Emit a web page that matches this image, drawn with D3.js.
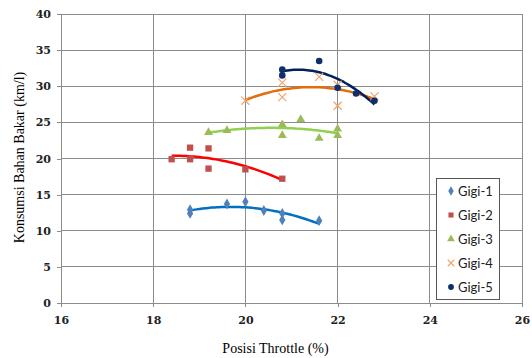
<!DOCTYPE html>
<html>
<head>
<meta charset="utf-8">
<script src="https://cdn.jsdelivr.net/npm/d3@7"></script>
<style>
  html, body { margin: 0; padding: 0; background: #fff; }
  svg { display: block; }
</style>
</head>
<body>
<div id="chart"></div>
<script>
const xTicks = [16, 18, 20, 22, 24, 26];
const yTicks = [0, 5, 10, 15, 20, 25, 30, 35, 40];

const gigi1X = [18.8, 18.8, 19.6, 20.0, 20.4, 20.8, 20.8, 21.6];
const gigi1Y = [12.9, 12.4, 13.7, 14.0, 12.8, 12.4, 11.5, 11.4];

const gigi2X = [18.4, 18.8, 18.8, 19.2, 19.2, 20.0, 20.8];
const gigi2Y = [19.9, 21.5, 19.9, 21.4, 18.6, 18.5, 17.2];

const gigi3X = [19.2, 19.6, 20.8, 20.8, 21.2, 21.6, 22.0, 22.0];
const gigi3Y = [23.6, 23.9, 24.7, 23.2, 25.4, 22.8, 24.1, 23.2];

const gigi4X = [20.0, 20.8, 20.8, 21.6, 22.0, 22.0, 22.8];
const gigi4Y = [28.0, 30.5, 28.5, 31.3, 30.2, 27.3, 28.6];

const gigi5X = [20.8, 20.8, 21.6, 22.0, 22.4, 22.8];
const gigi5Y = [32.3, 31.5, 33.5, 29.8, 29.0, 28.0];

const seriesNames = ["Gigi-1", "Gigi-2", "Gigi-3", "Gigi-4", "Gigi-5"];
const seriesXs = [gigi1X, gigi2X, gigi3X, gigi4X, gigi5X];
const seriesYs = [gigi1Y, gigi2Y, gigi3Y, gigi4Y, gigi5Y];
const markerColors = ["#4f81bd", "#c0504d", "#9bbb59", "#f0a46a", "#0d2f6b"];
const trendColors = ["#0070c0", "#ff0000", "#92d050", "#e46c0a", "#002060"];
const symbols = [d3.symbolDiamond, d3.symbolSquare, d3.symbolTriangle, d3.symbolCross, d3.symbolCircle];

// quadratic least-squares fit, like an Excel order-2 trendline
function quadFit(xs, ys) {
  const n = xs.length;
  let s = [0, 0, 0, 0, 0], t = [0, 0, 0];
  for (let i = 0; i < n; i++) {
    const x = xs[i], y = ys[i];
    for (let k = 0; k < 5; k++) s[k] += Math.pow(x, k);
    for (let k = 0; k < 3; k++) t[k] += y * Math.pow(x, k);
  }
  const m = [[s[0], s[1], s[2], t[0]], [s[1], s[2], s[3], t[1]], [s[2], s[3], s[4], t[2]]];
  for (let i = 0; i < 3; i++) {
    for (let j = i + 1; j < 3; j++) {
      const f = m[j][i] / m[i][i];
      for (let k = i; k < 4; k++) m[j][k] -= f * m[i][k];
    }
  }
  const c = [0, 0, 0];
  for (let i = 2; i >= 0; i--) {
    let v = m[i][3];
    for (let k = i + 1; k < 3; k++) v -= m[i][k] * c[k];
    c[i] = v / m[i][i];
  }
  return (x) => c[0] + c[1] * x + c[2] * x * x;
}

const width = 532, height = 358;
const margin = { top: 14, right: 10, bottom: 55, left: 61 };
const innerWidth = width - margin.left - margin.right;
const innerHeight = height - margin.top - margin.bottom;

const svg = d3.select("#chart").append("svg")
  .attr("width", width).attr("height", height);
const g = svg.append("g").attr("transform", `translate(${margin.left},${margin.top})`);

const x = d3.scaleLinear().domain([16, 26]).range([0, innerWidth]);
const y = d3.scaleLinear().domain([0, 40]).range([innerHeight, 0]);

// gridlines
g.append("g").selectAll("line").data(yTicks).join("line")
  .attr("x1", 0).attr("x2", innerWidth)
  .attr("y1", (d) => y(d)).attr("y2", (d) => y(d))
  .attr("stroke", "#8c8c8c").attr("stroke-width", 1).attr("shape-rendering", "crispEdges");
g.append("g").selectAll("line").data(xTicks).join("line")
  .attr("y1", 0).attr("y2", innerHeight)
  .attr("x1", (d) => x(d)).attr("x2", (d) => x(d))
  .attr("stroke", "#8c8c8c").attr("stroke-width", 1).attr("shape-rendering", "crispEdges");

// axes
const gx = g.append("g").attr("transform", `translate(0,${innerHeight})`)
  .call(d3.axisBottom(x).tickValues(xTicks).tickSize(4).tickPadding(9));
const gy = g.append("g")
  .call(d3.axisLeft(y).tickValues(yTicks).tickSize(4).tickPadding(6));
[gx, gy].forEach((a) => {
  a.selectAll("path, line").attr("stroke", "#8c8c8c").attr("shape-rendering", "crispEdges");
  a.selectAll("text")
    .attr("font-family", "'DejaVu Serif', serif")
    .attr("font-weight", "bold").attr("font-size", 11).attr("fill", "#222");
});

// trendlines
seriesXs.forEach((xs, i) => {
  const f = quadFit(xs, seriesYs[i]);
  const [x0, x1] = d3.extent(xs);
  const pts = d3.range(0, 41).map((k) => x0 + (x1 - x0) * k / 40);
  g.append("path")
    .datum(pts)
    .attr("fill", "none")
    .attr("stroke", trendColors[i])
    .attr("stroke-width", 2.5)
    .attr("d", d3.line().x((d) => x(d)).y((d) => y(f(d))).curve(d3.curveMonotoneX));
});

// markers
function marker(sel, i, size) {
  const sym = d3.symbol().type(symbols[i]).size(size);
  sel.attr("d", sym).attr("fill", markerColors[i]);
  if (i === 3) {
    sel.attr("d", d3.symbol().type(d3.symbolX).size(size * 1.1)())
      .attr("fill", "none").attr("stroke", markerColors[i]).attr("stroke-width", 1.2);
  }
}
const markerSizes = [34, 40, 34, 40, 34];
seriesXs.forEach((xs, i) => {
  g.append("g").selectAll("path")
    .data(xs.map((v, k) => [v, seriesYs[i][k]]))
    .join("path")
    .attr("transform", (d) => `translate(${x(d[0])},${y(d[1])})`)
    .call(marker, i, markerSizes[i]);
});

// axis titles
svg.append("text")
  .attr("x", margin.left + innerWidth / 2 - 16).attr("y", 353)
  .attr("text-anchor", "middle")
  .attr("font-family", "'Liberation Serif', serif").attr("font-size", 14)
  .text("Posisi Throttle (%)");
svg.append("text")
  .attr("transform", `translate(24,${margin.top + innerHeight / 2 - 1}) rotate(-90)`)
  .attr("text-anchor", "middle")
  .attr("font-family", "'Liberation Serif', serif").attr("font-size", 14)
  .text("Konsumsi Bahan Bakar (km/l)");

// legend
const legend = svg.append("g").attr("transform", "translate(436,178)");
legend.append("rect")
  .attr("width", 63).attr("height", 121)
  .attr("fill", "#fff").attr("stroke", "#555").attr("stroke-width", 1)
  .attr("shape-rendering", "crispEdges");
seriesNames.forEach((name, i) => {
  const row = legend.append("g").attr("transform", `translate(0,${13 + i * 24})`);
  row.append("path").attr("transform", "translate(15,0)").call(marker, i, 26);
  row.append("text")
    .attr("x", 22).attr("y", 4.5)
    .attr("font-family", "Lato, 'Liberation Sans', sans-serif").attr("font-size", 13)
    .attr("fill", "#222")
    .text(name);
});
</script>
</body>
</html>
